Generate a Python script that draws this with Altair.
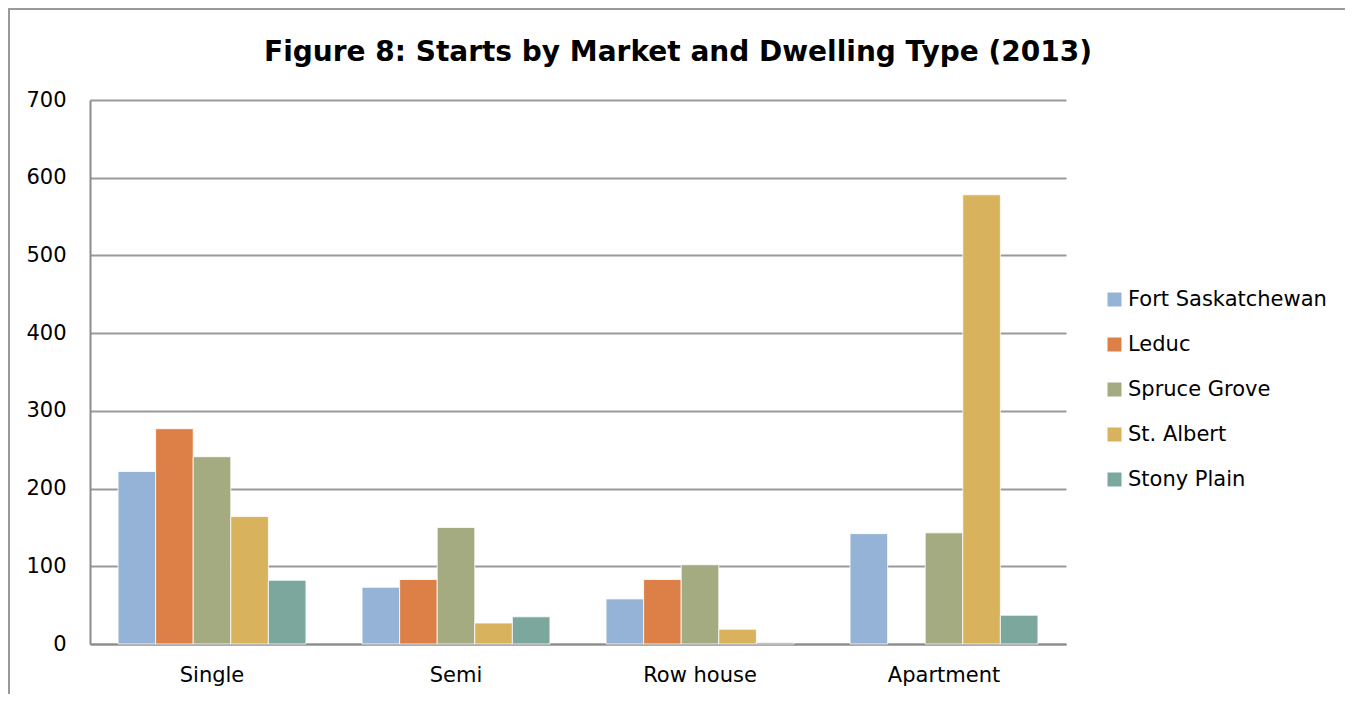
import altair as alt
import pandas as pd

categories = ["Single", "Semi", "Row house", "Apartment"]
markets = ["Fort Saskatchewan", "Leduc", "Spruce Grove", "St. Albert", "Stony Plain"]
fort_saskatchewan = [222, 73, 58, 142]
leduc = [277, 83, 83, 0]
spruce_grove = [241, 150, 102, 143]
st_albert = [164, 27, 19, 578]
stony_plain = [82, 35, 2, 37]
colors = ["#95B3D7", "#DD8047", "#A5AB81", "#D8B25C", "#7BA79D"]

series = [fort_saskatchewan, leduc, spruce_grove, st_albert, stony_plain]
rows = []
for m, vals in zip(markets, series):
    for c, v in zip(categories, vals):
        rows.append({"Type": c, "Market": m, "Starts": v})
df = pd.DataFrame(rows)

FONT = "DejaVu Sans"

bars = alt.Chart(df).mark_bar(stroke="white", strokeWidth=0.8).encode(
    x=alt.X("Type:N", sort=categories, title=None,
            scale=alt.Scale(domain=categories, paddingInner=0.23, paddingOuter=0.115),
            axis=alt.Axis(labelAngle=0, labelFontSize=21, labelFont=FONT, labelColor="black",
                          ticks=False, labelPadding=20, domainColor="#8c8c8c", domainWidth=2,
                          grid=False)),
    xOffset=alt.XOffset("Market:N", sort=markets,
                        scale=alt.Scale(domain=markets, paddingInner=0, paddingOuter=0)),
    y=alt.Y("Starts:Q", title=None, scale=alt.Scale(domain=[0, 700], nice=False),
            axis=alt.Axis(values=[0, 100, 200, 300, 400, 500, 600, 700], labelFontSize=21,
                          labelFont=FONT, labelColor="black", ticks=False, labelPadding=24,
                          domainColor="#8c8c8c", domainWidth=2, gridColor="#9a9a9a",
                          gridWidth=2)),
    color=alt.Color("Market:N", sort=markets, scale=alt.Scale(domain=markets, range=colors),
                    legend=alt.Legend(title=None, orient="none", legendX=1014, legendY=189,
                                      symbolType="square", symbolSize=196, symbolStrokeWidth=0,
                                      labelFontSize=21, labelFont=FONT, labelColor="black",
                                      labelOffset=3, rowPadding=23, labelLimit=0)),
).transform_filter("datum.Starts > 0")

border_df = pd.DataFrame({"b": [1]})
border = alt.Chart(border_df).mark_rect(fill=None, stroke="#9a9a9a", strokeWidth=2).encode(
    x=alt.value(-81), x2=alt.value(1258), y=alt.value(-91), y2=alt.value(700)
)

chart = alt.layer(bars, border).properties(
    width=976, height=544,
    autosize=alt.AutoSizeParams(type="none"),
    padding={"left": 82, "top": 92, "right": 279, "bottom": 50},
    title=alt.TitleParams("Figure 8: Starts by Market and Dwelling Type (2013)", fontSize=28,
                          font=FONT, fontWeight="bold", anchor="middle", frame="group",
                          dx=100, baseline="alphabetic", offset=-81, color="black"),
).configure_view(stroke=None)

chart.save("out.html", embed_options={"renderer": "svg", "actions": False})
